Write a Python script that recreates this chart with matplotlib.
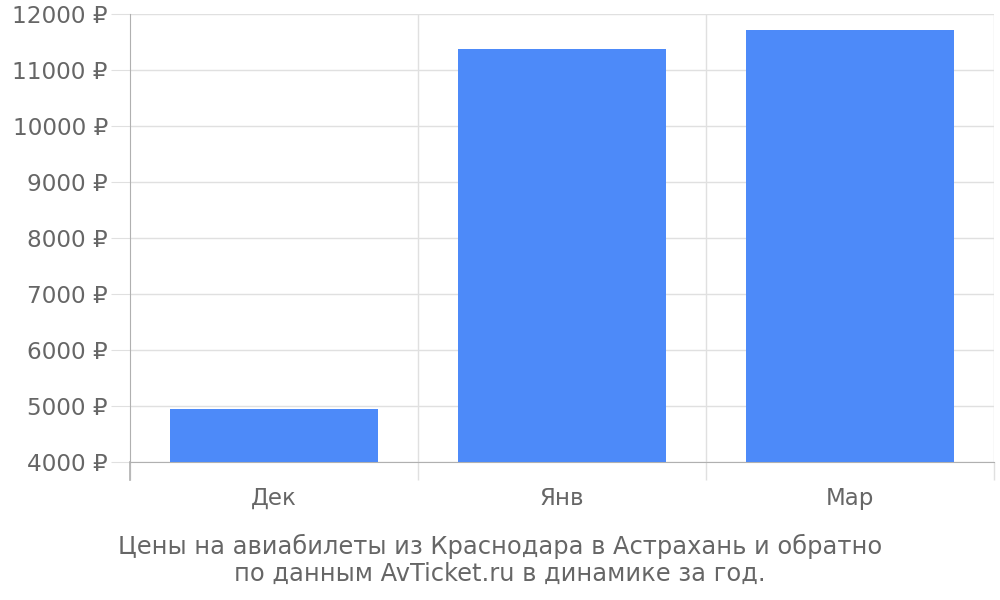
import matplotlib
matplotlib.use("Agg")
import matplotlib.pyplot as plt
from matplotlib.ticker import FixedLocator, NullFormatter

categories = ["Дек", "Янв", "Мар"]
prices = [4950, 11375, 11715]
yticks = [4000, 5000, 6000, 7000, 8000, 9000, 10000, 11000, 12000]
ytick_labels = [f"{v} ₽" for v in yticks]
caption_lines = ["Цены на авиабилеты из Краснодара в Астрахань и обратно",
                 "по данным AvTicket.ru в динамике за год."]

TEXT = "#666666"
GRID = "#e0e0e0"
AXIS = "#b0b0b0"
BAR = "#4d8af9"

fig = plt.figure(figsize=(10, 6), dpi=100)
ax = fig.add_axes([0.13, 0.23, 0.864, 0.7467])

x = list(range(len(categories)))
ax.bar(x, prices, width=0.72, color=BAR, zorder=3)
ax.set_xlim(-0.5, len(categories) - 0.5)
ax.set_ylim(4000, 12000)

ax.set_yticks(yticks)
ax.set_yticklabels(ytick_labels)
ax.yaxis.grid(True, color=GRID, linewidth=1, zorder=0)
ax.tick_params(axis="y", length=14, color=GRID, labelsize=16.7, labelcolor=TEXT, pad=2)

ax.set_xticks(x)
ax.set_xticklabels(categories)
ax.tick_params(axis="x", which="major", length=0, labelsize=16.5, labelcolor=TEXT, pad=18)
bounds = [i - 0.5 for i in range(len(categories) + 1)]
ax.xaxis.set_minor_locator(FixedLocator(bounds))
ax.xaxis.set_minor_formatter(NullFormatter())
ax.tick_params(axis="x", which="minor", length=13, color=GRID, width=1)
for b in bounds[1:]:
    ax.axvline(b, color=GRID, linewidth=1, zorder=0)

for side in ["top", "right"]:
    ax.spines[side].set_visible(False)
ax.spines["left"].set_color(AXIS)
ax.spines["bottom"].set_color(AXIS)
ax.plot([-0.5, -0.5], [-0.04, 0], transform=ax.get_xaxis_transform(), color=AXIS, lw=1.2, clip_on=False)

fig.text(0.5, 1 - 554 / 600, caption_lines[0], ha="center", va="baseline", fontsize=17.4, color=TEXT)
fig.text(0.5, 1 - 581 / 600, caption_lines[1], ha="center", va="baseline", fontsize=17.4, color=TEXT)

fig.savefig("out.png", dpi=100, facecolor="white")
